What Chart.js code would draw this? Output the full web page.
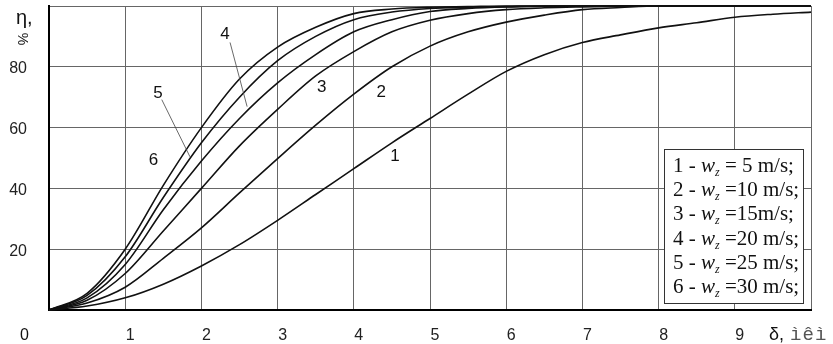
<!DOCTYPE html>
<html>
<head>
<meta charset="utf-8">
<script src="https://cdn.jsdelivr.net/npm/chart.js@4/dist/chart.umd.min.js"></script>
<style>
  body { margin: 0; background: #fff; }
  #wrap { width: 833px; height: 344px; }
</style>
</head>
<body>
<div id="wrap"><canvas id="chartarea"></canvas></div>
<script>
// delta, x axis (0..10)
var deltaValues = [0, 0.5, 1, 1.5, 2, 2.5, 3, 3.5, 4, 4.5, 5, 5.5, 6, 6.5, 7, 7.5, 8, 8.5, 9, 9.5, 10];

// eta, % for each w_z
var eta1 = [0, 1.3, 4, 8.5, 14.5, 21.5, 29.5, 38, 46.5, 55, 63, 71, 78.5, 84, 88, 90.5, 92.8, 94.5, 96.3, 97.3, 98];
var eta2 = [0, 2.3, 7.5, 17, 27, 38.5, 49.8, 60.8, 71, 80, 86.8, 91.5, 94.7, 97, 98.8, 99.5, 100, 100, 100, 100, 100];
var eta3 = [0, 3.2, 12, 26, 40, 54, 66, 77, 85, 91.5, 95.3, 97.5, 98.8, 99.4, 99.7, 99.9, 100, 100, 100, 100, 100];
var eta4 = [0, 4, 15, 33, 49, 63, 74.7, 84, 91.5, 95.5, 98.2, 99.2, 99.7, 99.9, 100, 100, 100, 100, 100, 100, 100];
var eta5 = [0, 4.8, 17.5, 37, 55, 70, 82, 90, 95.5, 98, 99.2, 99.6, 99.8, 100, 100, 100, 100, 100, 100, 100, 100];
var eta6 = [0, 5.5, 20, 41, 60, 76, 86.5, 93, 97.5, 99, 99.6, 99.8, 100, 100, 100, 100, 100, 100, 100, 100, 100];

var seriesNames = ["1", "2", "3", "4", "5", "6"];
var legendSpeeds = [" = 5 m/s;", " =10 m/s;", " =15m/s;", " =20 m/s;", " =25 m/s;", " =30 m/s;"];
var xTickLabels = ["", "1", "2", "3", "4", "5", "6", "7", "8", "9", ""];
var yTickLabels = ["", "20", "40", "60", "80", ""];

function toPoints(ys) {
    return deltaValues.map(function (x, i) { return { x: x, y: ys[i] }; });
}

var allSeries = [eta1, eta2, eta3, eta4, eta5, eta6];
var datasets = allSeries.map(function (ys, i) {
    return {
        label: seriesNames[i],
        data: toPoints(ys),
        borderColor: "#111",
        borderWidth: 1.6,
        pointRadius: 0,
        fill: false,
        cubicInterpolationMode: "monotone",
        clip: 3
    };
});

// labels and leader lines placed on the curves
var decorations = {
    id: "decorations",
    afterDraw: function (chart) {
        var c = chart.ctx;
        var xs = chart.scales.x, ys = chart.scales.y;
        function px(x) { return xs.getPixelForValue(x); }
        function py(y) { return ys.getPixelForValue(y); }

        c.save();
        // leader lines
        c.strokeStyle = "#444";
        c.lineWidth = 0.8;
        c.beginPath();
        c.moveTo(px(2.376), py(88.0)); c.lineTo(px(2.60), py(66.9));
        c.moveTo(px(1.48), py(69.2)); c.lineTo(px(1.85), py(50.4));
        c.stroke();

        // curve numbers
        c.fillStyle = "#111";
        c.font = "17px 'Liberation Sans', Arial, sans-serif";
        c.textAlign = "center";
        c.textBaseline = "middle";
        var spots = [[4.54, 50.7], [4.36, 71.5], [3.58, 73.1], [2.31, 90.6], [1.43, 71.2], [1.37, 49.1]];
        spots.forEach(function (s, i) {
            c.fillText(seriesNames[i], px(s[0]), py(s[1]));
        });

        // axis captions
        c.textAlign = "left";
        c.textBaseline = "alphabetic";
        c.font = "16px 'Liberation Sans', Arial, sans-serif";
        c.fillText("0", 20, 340);
        c.font = "20px 'Liberation Sans', Arial, sans-serif";
        c.fillText("\u03b7,", 16, 24);
        c.save();
        c.translate(22, 39);
        c.rotate(Math.PI / 2);
        c.font = "14px 'Liberation Sans', Arial, sans-serif";
        c.textAlign = "center";
        c.textBaseline = "middle";
        c.fillText("%", 0, 0);
        c.restore();
        c.font = "18px 'Liberation Sans', Arial, sans-serif";
        c.fillText("\u03b4,", 769, 340);
        c.font = "19px 'Liberation Mono', 'Courier New', monospace";
        c.fillStyle = "#555";
        ["\u00ec", "\u00ea", "\u00ec"].forEach(function (ch, i) {
            c.fillText(ch, 790 + i * 12.5, 340);
        });

        // legend box
        var bx = 664, by = 149, bw = 139, bh = 154;
        c.fillStyle = "#fff";
        c.fillRect(bx, by, bw, bh);
        c.strokeStyle = "#333";
        c.lineWidth = 1;
        c.strokeRect(bx + 0.5, by + 0.5, bw, bh);
        c.fillStyle = "#111";
        seriesNames.forEach(function (n, i) {
            var y = 172 + i * 24.2;
            var x = 673;
            c.font = "21px 'Liberation Serif', 'Times New Roman', serif";
            var t = n + " - ";
            c.fillText(t, x, y); x += c.measureText(t).width;
            c.font = "italic 21px 'Liberation Serif', 'Times New Roman', serif";
            c.fillText("w", x, y); x += c.measureText("w").width;
            c.font = "italic 12px 'Liberation Serif', 'Times New Roman', serif";
            c.fillText("z", x, y + 4); x += c.measureText("z").width;
            c.font = "21px 'Liberation Serif', 'Times New Roman', serif";
            c.fillText(legendSpeeds[i], x, y);
        });
        c.restore();
    }
};

var options = {
    animation: false,
    responsive: true,
    maintainAspectRatio: false,
    layout: { padding: { top: 6, right: 22, left: 0, bottom: 0 } },
    plugins: { legend: { display: false }, tooltip: { enabled: false } },
    scales: {
        x: {
            type: "linear",
            min: 0, max: 10,
            afterFit: function (s) { s.height = 34; s.paddingLeft = 0; s.paddingRight = 0; },
            border: { color: "#000", width: 2 },
            grid: { color: "#666", lineWidth: 1, drawTicks: false },
            ticks: {
                stepSize: 1,
                padding: 16,
                labelOffset: 5,
                maxRotation: 0,
                color: "#222",
                font: { size: 16, family: "'Liberation Sans', Arial, sans-serif" },
                callback: function (v) { return xTickLabels[v] !== undefined ? xTickLabels[v] : ""; }
            }
        },
        y: {
            min: 0, max: 100,
            afterFit: function (s) { s.width = 49; s.paddingTop = 0; s.paddingBottom = 0; },
            border: { color: "#000", width: 2 },
            grid: { color: "#666", lineWidth: 1, drawTicks: false },
            ticks: {
                stepSize: 20,
                padding: 22,
                labelOffset: 2,
                color: "#222",
                font: { size: 16, family: "'Liberation Sans', Arial, sans-serif" },
                callback: function (v) { return yTickLabels[v / 20] !== undefined ? yTickLabels[v / 20] : ""; }
            }
        }
    }
};

new Chart(document.getElementById("chartarea"), {
    type: "line",
    data: { datasets: datasets },
    options: options,
    plugins: [decorations]
});
</script>
</body>
</html>
